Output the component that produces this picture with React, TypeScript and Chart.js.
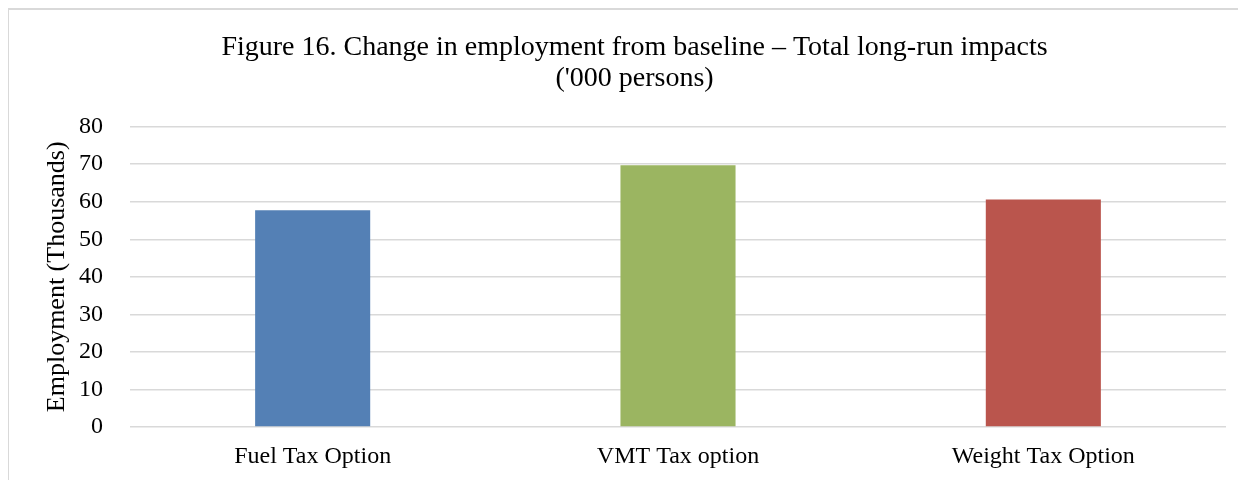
import React, { useEffect, useRef } from "react";
import { Chart, registerables } from "chart.js";

Chart.register(...registerables);

const categories = ["Fuel Tax Option", "VMT Tax option", "Weight Tax Option"];
const employment = [57.7, 69.7, 60.6];
const barColors = ["#5480B5", "#9BB561", "#BA554D"];
const titleLines = [
  "Figure 16. Change in employment from baseline \u2013 Total long-run impacts",
  "('000 persons)",
];
const yAxisTitle = "Employment (Thousands)";

const SERIF = "'Liberation Serif', 'Times New Roman', serif";

export default function App() {
  const ref = useRef<HTMLCanvasElement | null>(null);

  useEffect(() => {
    if (!ref.current) return;
    const chart = new Chart(ref.current, {
      type: "bar",
      data: {
        labels: categories,
        datasets: [
          {
            data: employment,
            backgroundColor: barColors,
            borderWidth: 0,
            categoryPercentage: 1,
            barPercentage: 0.315,
          },
        ],
      },
      options: {
        animation: false,
        responsive: false,
        maintainAspectRatio: false,
        layout: { padding: { left: 34, right: 19, top: 8, bottom: 0 } },
        plugins: {
          legend: { display: false },
          tooltip: { enabled: false },
          title: {
            display: true,
            text: titleLines,
            color: "#000",
            font: { family: SERIF, size: 28, weight: "normal", lineHeight: 1.1 },
            padding: { top: 14, bottom: 33 },
          },
        },
        scales: {
          x: {
            grid: { display: false, drawTicks: false },
            border: { display: false },
            ticks: {
              color: "#000",
              font: { family: SERIF, size: 24 },
              padding: 15,
            },
            afterFit: (scale: any) => {
              scale.height = 53;
            },
          },
          y: {
            min: 0,
            max: 80,
            ticks: {
              stepSize: 10,
              color: "#000",
              font: { family: SERIF, size: 24 },
              padding: 27,
            },
            grid: { color: "#d9d9d9", lineWidth: 1.5, drawTicks: false },
            border: { display: false },
            title: {
              display: true,
              text: yAxisTitle,
              color: "#000",
              font: { family: SERIF, size: 26, lineHeight: 1.1 },
              padding: { top: 0, bottom: 4 },
            },
            afterFit: (scale: any) => {
              scale.width = 87;
            },
          },
        },
      },
    });
    return () => chart.destroy();
  }, []);

  return (
    <div
      style={{
        width: 1238,
        height: 470,
        borderLeft: "2px solid #d9d9d9",
        borderTop: "2px solid #d9d9d9",
        marginLeft: -1,
        boxSizing: "content-box",
      }}
    >
      <canvas ref={ref} width={1236} height={470} style={{ display: "block" }} />
    </div>
  );
}
